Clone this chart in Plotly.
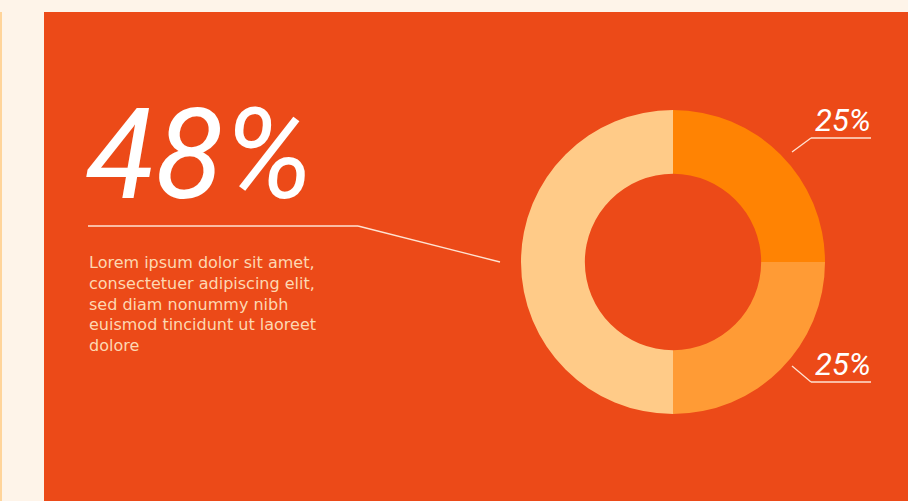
import plotly.graph_objects as go

# ---- data ----
slice_labels = ["Segment A", "Segment B", "Segment C"]
slice_values = [25, 25, 50]
slice_colors = ["#FF8303", "#FF9B35", "#FFCB88"]
callout_labels = ["25%", "25%"]
headline = "48%"
body_text = ["Lorem ipsum dolor sit amet,", "consectetuer adipiscing elit,",
             "sed diam nonummy nibh", "euismod tincidunt ut laoreet", "dolore"]

W, H = 908, 501
def px(x): return x / W
def py(y): return 1 - y / H

cx, cy, R = 673, 262, 152

fig = go.Figure()
fig.add_trace(go.Pie(
    labels=slice_labels, values=slice_values, sort=False, direction="clockwise",
    rotation=0, hole=0.58, textinfo="none", hoverinfo="label+percent",
    marker=dict(colors=slice_colors, line=dict(width=0)),
    domain=dict(x=[px(cx - R), px(cx + R)], y=[py(cy + R), py(cy - R)]),
    showlegend=False,
))

shapes = [
    dict(type="rect", xref="paper", yref="paper", x0=0, x1=px(2), y0=0, y1=py(12),
         fillcolor="#FFD49A", line=dict(width=0), layer="below"),
    dict(type="rect", xref="paper", yref="paper", x0=px(44), x1=1, y0=0, y1=py(12),
         fillcolor="#EC4A18", line=dict(width=0), layer="below"),
]
line_style = dict(color="#FFE3D2", width=1.3)
def seg(x0, y0, x1, y1):
    return dict(type="line", xref="paper", yref="paper", x0=px(x0), y0=py(y0),
                x1=px(x1), y1=py(y1), line=line_style)

shapes += [
    seg(88, 226, 358, 226), seg(358, 226, 500, 262),
    seg(811, 138, 871, 138), seg(811, 138, 792, 152),
    seg(811, 382, 871, 382), seg(811, 382, 792, 366),
]

big_font = "Roboto, Liberation Sans, sans-serif"
annotations = [
    dict(text=headline, xref="paper", yref="paper", x=px(85), y=py(155),
         xanchor="left", yanchor="middle", showarrow=False, borderpad=0,
         font=dict(family=big_font, size=126, color="#FFFFFF", style="italic", weight=400)),
    dict(text="<br>".join(body_text), xref="paper", yref="paper", x=px(88), y=py(252),
         xanchor="left", yanchor="top", align="left", showarrow=False, borderpad=0,
         font=dict(family="DejaVu Sans, sans-serif", size=16, color="#FDD8B2")),
    dict(text=callout_labels[0], xref="paper", yref="paper", x=px(872), y=py(121),
         xanchor="right", yanchor="middle", showarrow=False, borderpad=0,
         font=dict(family=big_font, size=31, color="#FFFFFF", style="italic", weight=400)),
    dict(text=callout_labels[1], xref="paper", yref="paper", x=px(872), y=py(364),
         xanchor="right", yanchor="middle", showarrow=False, borderpad=0,
         font=dict(family=big_font, size=31, color="#FFFFFF", style="italic", weight=400)),
]

fig.update_layout(
    width=W, height=H, margin=dict(l=0, r=0, t=0, b=0),
    paper_bgcolor="#FEF4E9", plot_bgcolor="#FEF4E9",
    shapes=shapes, annotations=annotations,
)
fig.write_html("out.html", config={"displayModeBar": False},
               post_script="document.body.style.margin='0';document.body.style.background='#FEF4E9';")
